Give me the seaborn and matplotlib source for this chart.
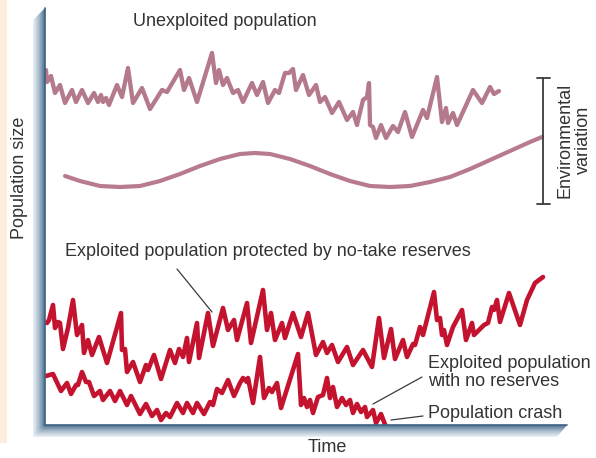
import numpy as np
import matplotlib
matplotlib.use("Agg")
import matplotlib.pyplot as plt
import seaborn as sns
from matplotlib.patches import Polygon, Rectangle
from matplotlib.colors import LinearSegmentedColormap

# ---------------- data (time, population size in arbitrary units) ----------------

unexploited_t = [1, 2, 6, 10, 15, 20, 27, 31, 37, 43, 49, 53, 56, 58, 61, 64, 72, 77, 83, 88,
                 97, 105, 117, 122, 135, 139, 144, 152, 167, 171, 174, 178, 182, 188, 193, 198,
                 207, 212, 218, 223, 230, 234, 240, 244, 248, 251, 258, 264, 271, 275, 280, 287,
                 294, 302, 308, 312, 318, 322, 324, 325, 328, 331, 336, 341, 348, 353, 360, 367,
                 378, 382, 392, 397, 401, 403, 408, 412, 428, 437, 445, 449, 454]
unexploited_p = [355, 343, 349, 332, 340, 322, 335, 323, 335, 322, 332, 323, 330, 323, 327, 320,
                 340, 328, 357, 322, 337, 316, 335, 333, 355, 335, 347, 323, 372, 342, 355, 340,
                 347, 332, 335, 323, 342, 330, 343, 322, 335, 332, 352, 352, 356, 335, 350, 330,
                 340, 323, 328, 312, 323, 305, 313, 300, 325, 328, 342, 300, 298, 287, 300, 287,
                 299, 293, 313, 288, 315, 307, 348, 303, 317, 302, 312, 300, 335, 322, 338, 331, 334]

env_t = [20, 35, 55, 75, 95, 115, 135, 155, 175, 195, 210, 225, 245, 265, 285, 305, 325, 345,
         365, 385, 405, 425, 445, 465, 485, 497]
env_p = [249, 244, 239, 238, 239, 244, 251, 259, 266, 271, 272, 271, 266, 259, 251, 244, 239, 238,
         239, 243, 248, 256, 265, 274, 283, 288]

protected_t = [2, 4, 8, 10, 13, 15, 18, 23, 28, 32, 37, 39, 43, 47, 54, 62, 76, 77, 80, 82, 88,
               95, 101, 103, 109, 116, 125, 130, 134, 138, 142, 144, 152, 154, 163, 168, 178, 183,
               189, 192, 202, 206, 218, 222, 226, 230, 237, 240, 248, 256, 263, 271, 278, 282,
               287, 293, 302, 308, 318, 327, 334, 339, 346, 350, 358, 362, 368, 370, 375, 378,
               389, 392, 395, 397, 399, 402, 408, 417, 421, 427, 429, 439, 443, 447, 449, 452,
               455, 464, 475, 482, 490, 498]
protected_p = [102, 105, 120, 97, 103, 102, 76, 97, 125, 90, 100, 72, 85, 70, 88, 62, 112, 75, 76,
               53, 63, 43, 60, 55, 70, 46, 75, 62, 76, 68, 87, 63, 102, 67, 112, 79, 117, 95, 105,
               85, 122, 82, 135, 95, 112, 85, 102, 87, 112, 88, 112, 70, 83, 72, 80, 63, 78, 60,
               75, 58, 107, 67, 96, 66, 85, 68, 81, 80, 98, 90, 133, 105, 107, 90, 95, 80, 98,
               115, 85, 102, 90, 100, 102, 118, 115, 125, 103, 132, 100, 125, 142, 148]

no_reserve_t = [1, 8, 16, 22, 26, 31, 33, 37, 41, 44, 49, 55, 58, 65, 70, 75, 82, 86, 95, 101,
                107, 112, 116, 121, 125, 132, 138, 142, 148, 152, 159, 165, 168, 172, 177, 183,
                189, 195, 198, 202, 203, 208, 215, 219, 224, 227, 232, 236, 253, 256, 259, 262,
                265, 268, 273, 278, 282, 285, 288, 292, 297, 301, 305, 308, 312, 316, 320, 322,
                328, 331, 336, 341]
no_reserve_p = [49, 51, 34, 42, 31, 40, 40, 53, 43, 43, 29, 34, 25, 34, 24, 34, 20, 29, 11, 21,
                9, 15, 5, 12, 8, 22, 12, 22, 12, 22, 11, 23, 20, 36, 32, 45, 29, 42, 47, 43, 47,
                22, 68, 27, 37, 33, 42, 17, 71, 20, 27, 18, 25, 12, 28, 30, 47, 27, 38, 18, 27,
                20, 25, 12, 21, 13, 18, 8, 15, 2, 11, -2]

UNEXP_COLOR = "#b47a8b"
ENV_COLOR = "#b87b8d"
RED = "#c4132f"
TEXT = "#333333"

sns.set_style("white")
plt.rcParams["font.family"] = ["Liberation Sans", "DejaVu Sans"]

fig = plt.figure(figsize=(5.96, 4.58), dpi=100)
fig.patch.set_facecolor("white")

line_kw = dict(sort=False, estimator=None, solid_joinstyle="round", solid_capstyle="round")

# data axes: inner plot area of the drawing
ax = fig.add_axes([45 / 596, 33 / 458, 545 / 596, 415 / 458])
sns.lineplot(x=unexploited_t, y=unexploited_p, ax=ax, color=UNEXP_COLOR, linewidth=3.1, **line_kw)
sns.lineplot(x=env_t, y=env_p, ax=ax, color=ENV_COLOR, linewidth=3.0, **line_kw)
sns.lineplot(x=protected_t, y=protected_p, ax=ax, color=RED, linewidth=3.3, **line_kw)
sns.lineplot(x=no_reserve_t, y=no_reserve_p, ax=ax, color=RED, linewidth=3.3, **line_kw)
ax.set_xlim(0, 545)
ax.set_ylim(0, 415)
ax.axis("off")

# overlay in pixel units for the decorations
ov = fig.add_axes([0, 0, 1, 1])
ov.set_xlim(0, 596)
ov.set_ylim(458, 0)
ov.axis("off")
ov.patch.set_alpha(0)

ov.add_patch(Rectangle((0, 0), 7, 443, facecolor="#fdeedb", edgecolor="none"))

bar_cmap = LinearSegmentedColormap.from_list("bar", ["#eef2f6", "#a9bccd", "#4d7192"])

left_poly = Polygon([(33, 20), (45, 8), (45, 425), (33, 437)], closed=True,
                    facecolor="none", edgecolor="none")
ov.add_patch(left_poly)
img = ov.imshow(np.linspace(0, 1, 64).reshape(1, -1), cmap=bar_cmap, aspect="auto",
                extent=(33, 45, 437, 8), zorder=3)
img.set_clip_path(left_poly)

bottom_poly = Polygon([(33, 437), (45, 425), (567, 425), (557, 437)], closed=True,
                      facecolor="none", edgecolor="none")
ov.add_patch(bottom_poly)
img2 = ov.imshow(np.linspace(1, 0, 64).reshape(-1, 1), cmap=bar_cmap, aspect="auto",
                 extent=(33, 567, 437, 425), zorder=3)
img2.set_clip_path(bottom_poly)

ov.plot([45, 45], [8, 425], color="#3f6282", lw=1.2, zorder=4)
ov.plot([45, 567], [425, 425], color="#3f6282", lw=1.2, zorder=4)
ov.set_xlim(0, 596)
ov.set_ylim(458, 0)

# environmental variation bracket
ov.plot([543, 543], [78, 204], color="#3a3a3a", lw=1.3)
ov.plot([537, 550], [78, 78], color="#3a3a3a", lw=1.3)
ov.plot([537, 550], [204, 204], color="#3a3a3a", lw=1.3)

# leader lines
ov.plot([177, 212], [269, 312], color="#3a3a3a", lw=0.9)
ov.plot([373, 422], [404, 377], color="#3a3a3a", lw=0.9)
ov.plot([391, 423], [420, 416], color="#3a3a3a", lw=0.9)

fs = 13
ov.text(133, 22, "Unexploited population", fontsize=fs, color=TEXT, va="center", ha="left")
ov.text(65, 251, "Exploited population protected by no-take reserves", fontsize=fs,
        color=TEXT, va="center", ha="left")
ov.text(428, 364, "Exploited population", fontsize=fs, color=TEXT, va="center", ha="left")
ov.text(428, 382, "with no reserves", fontsize=fs, color=TEXT, va="center", ha="left")
ov.text(428, 413, "Population crash", fontsize=fs, color=TEXT, va="center", ha="left")
ov.text(20, 178, "Population size", fontsize=fs, color=TEXT, va="center", ha="center",
        rotation=90)
ov.text(327, 448, "Time", fontsize=fs, color=TEXT, va="center", ha="center")
ov.text(574, 140, "Environmental\nvariation", fontsize=fs, color=TEXT, va="center",
        ha="center", rotation=90, multialignment="center", linespacing=1.08)

fig.savefig("out.png", dpi=100)
